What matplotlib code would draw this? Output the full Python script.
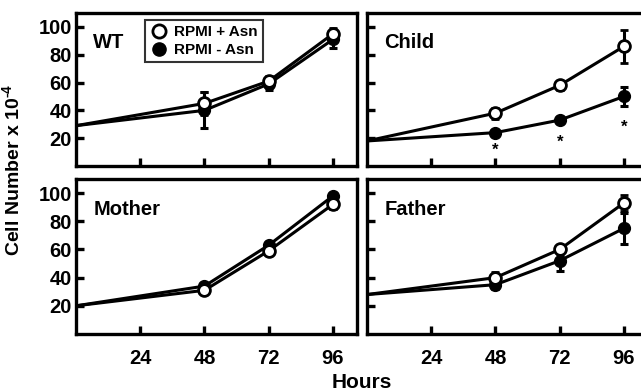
import matplotlib
matplotlib.use("Agg")
import matplotlib.pyplot as plt
from matplotlib.lines import Line2D

plt.rcParams['font.family'] = ['Liberation Sans', 'DejaVu Sans']
plt.rcParams['font.weight'] = 'bold'
plt.rcParams['mathtext.fontset'] = 'custom'
plt.rcParams['mathtext.rm'] = 'Liberation Sans:bold'
plt.rcParams['mathtext.bf'] = 'Liberation Sans:bold'
plt.rcParams['mathtext.default'] = 'bf'

hours = [0, 48, 72, 96]
panels = ["WT", "Child", "Mother", "Father"]

# RPMI + Asn (open)
wt_plus = [29, 45, 61, 95]
child_plus = [18, 38, 58, 86]
mother_plus = [20, 31, 59, 92]
father_plus = [28, 40, 60, 93]
# RPMI - Asn (filled)
wt_minus = [29, 40, 59, 91]
child_minus = [18, 24, 33, 50]
mother_minus = [20, 34, 63, 98]
father_minus = [28, 35, 52, 75]

# error bars (for 48, 72, 96)
wt_plus_err = [8, 4, 4]
wt_minus_err = [13, 4, 6]
child_plus_err = [4, 3, 12]
child_minus_err = [2, 2, 7]
mother_plus_err = [2, 2, 3]
mother_minus_err = [2, 2, 2]
father_plus_err = [4, 3, 6]
father_minus_err = [3, 7, 11]

plus = [wt_plus, child_plus, mother_plus, father_plus]
minus = [wt_minus, child_minus, mother_minus, father_minus]
plus_err = [wt_plus_err, child_plus_err, mother_plus_err, father_plus_err]
minus_err = [wt_minus_err, child_minus_err, mother_minus_err, father_minus_err]

# significance markers for Child (hours, y)
star_hours = [48, 72, 96]
star_y = [11, 17, 28]

xticks = [24, 48, 72, 96]
yticks = [20, 40, 60, 80, 100]

W, H = 641, 392
fig = plt.figure(figsize=(W / 100, H / 100), dpi=100)

def px(l, t, r, b):
    return [l / W, 1 - b / H, (r - l) / W, (b - t) / H]

rects = [px(76, 13, 357, 166), px(367, 13, 648, 166),
         px(76, 179, 357, 334), px(367, 179, 648, 334)]

for i, name in enumerate(panels):
    ax = fig.add_axes(rects[i])
    ax.set_xlim(0, 105)
    ax.set_ylim(0, 110)
    for s in ax.spines.values():
        s.set_linewidth(2.4)
    ax.set_xticks(xticks)
    ax.set_yticks(yticks)
    ax.tick_params(direction='in', length=6, width=2.4, labelsize=14.5, pad=3)
    if i % 2 == 1:
        ax.set_yticklabels([])
    if i < 2:
        ax.set_xticklabels([])
    else:
        ax.tick_params(axis='x', pad=11)

    ax.plot(hours, minus[i], color='black', lw=2.2, zorder=3)
    ax.errorbar(hours[1:], minus[i][1:], yerr=minus_err[i], fmt='o', color='black',
                mfc='black', mec='black', ms=8.5, elinewidth=2.2, capsize=3,
                capthick=2.2, zorder=4)
    ax.plot(hours, plus[i], color='black', lw=2.2, zorder=5)
    ax.errorbar(hours[1:], plus[i][1:], yerr=plus_err[i], fmt='o', color='black',
                mfc='white', mec='black', mew=2, ms=8.5, elinewidth=2.2, capsize=3,
                capthick=2.2, zorder=6)

    ax.text(0.062, 0.805, name, transform=ax.transAxes, fontsize=14.5,
            fontweight='bold', va='center', ha='left')

    if name == "Child":
        for hx, hy in zip(star_hours, star_y):
            ax.text(hx, hy, "*", fontsize=12, fontweight='bold',
                    ha='center', va='center')

    if name == "WT":
        handles = [
            Line2D([], [], marker='o', ls='none', mfc='white', mec='black',
                   mew=2, ms=9.5, color='black'),
            Line2D([], [], marker='o', ls='none', mfc='black', mec='black',
                   ms=9.5, color='black'),
        ]
        leg = ax.legend(handles, ["RPMI + Asn", "RPMI - Asn"], loc='upper left',
                        bbox_to_anchor=(0.245, 0.955), frameon=True, fancybox=False,
                        edgecolor='black', prop={'size': 11, 'weight': 'bold'},
                        handletextpad=0.35, borderpad=0.35, labelspacing=0.25,
                        handlelength=1.2, borderaxespad=0)
        leg.get_frame().set_linewidth(1.5)

fig.text(12 / W, 1 - 170 / H, "Cell Number x 10$^{\\text{-4}}$", rotation=90,
         fontsize=14, fontweight='bold', ha='center', va='center')
fig.text(362 / W, 1 - 382 / H, "Hours", fontsize=15, fontweight='bold',
         ha='center', va='center')

fig.savefig("out.png", dpi=100)
